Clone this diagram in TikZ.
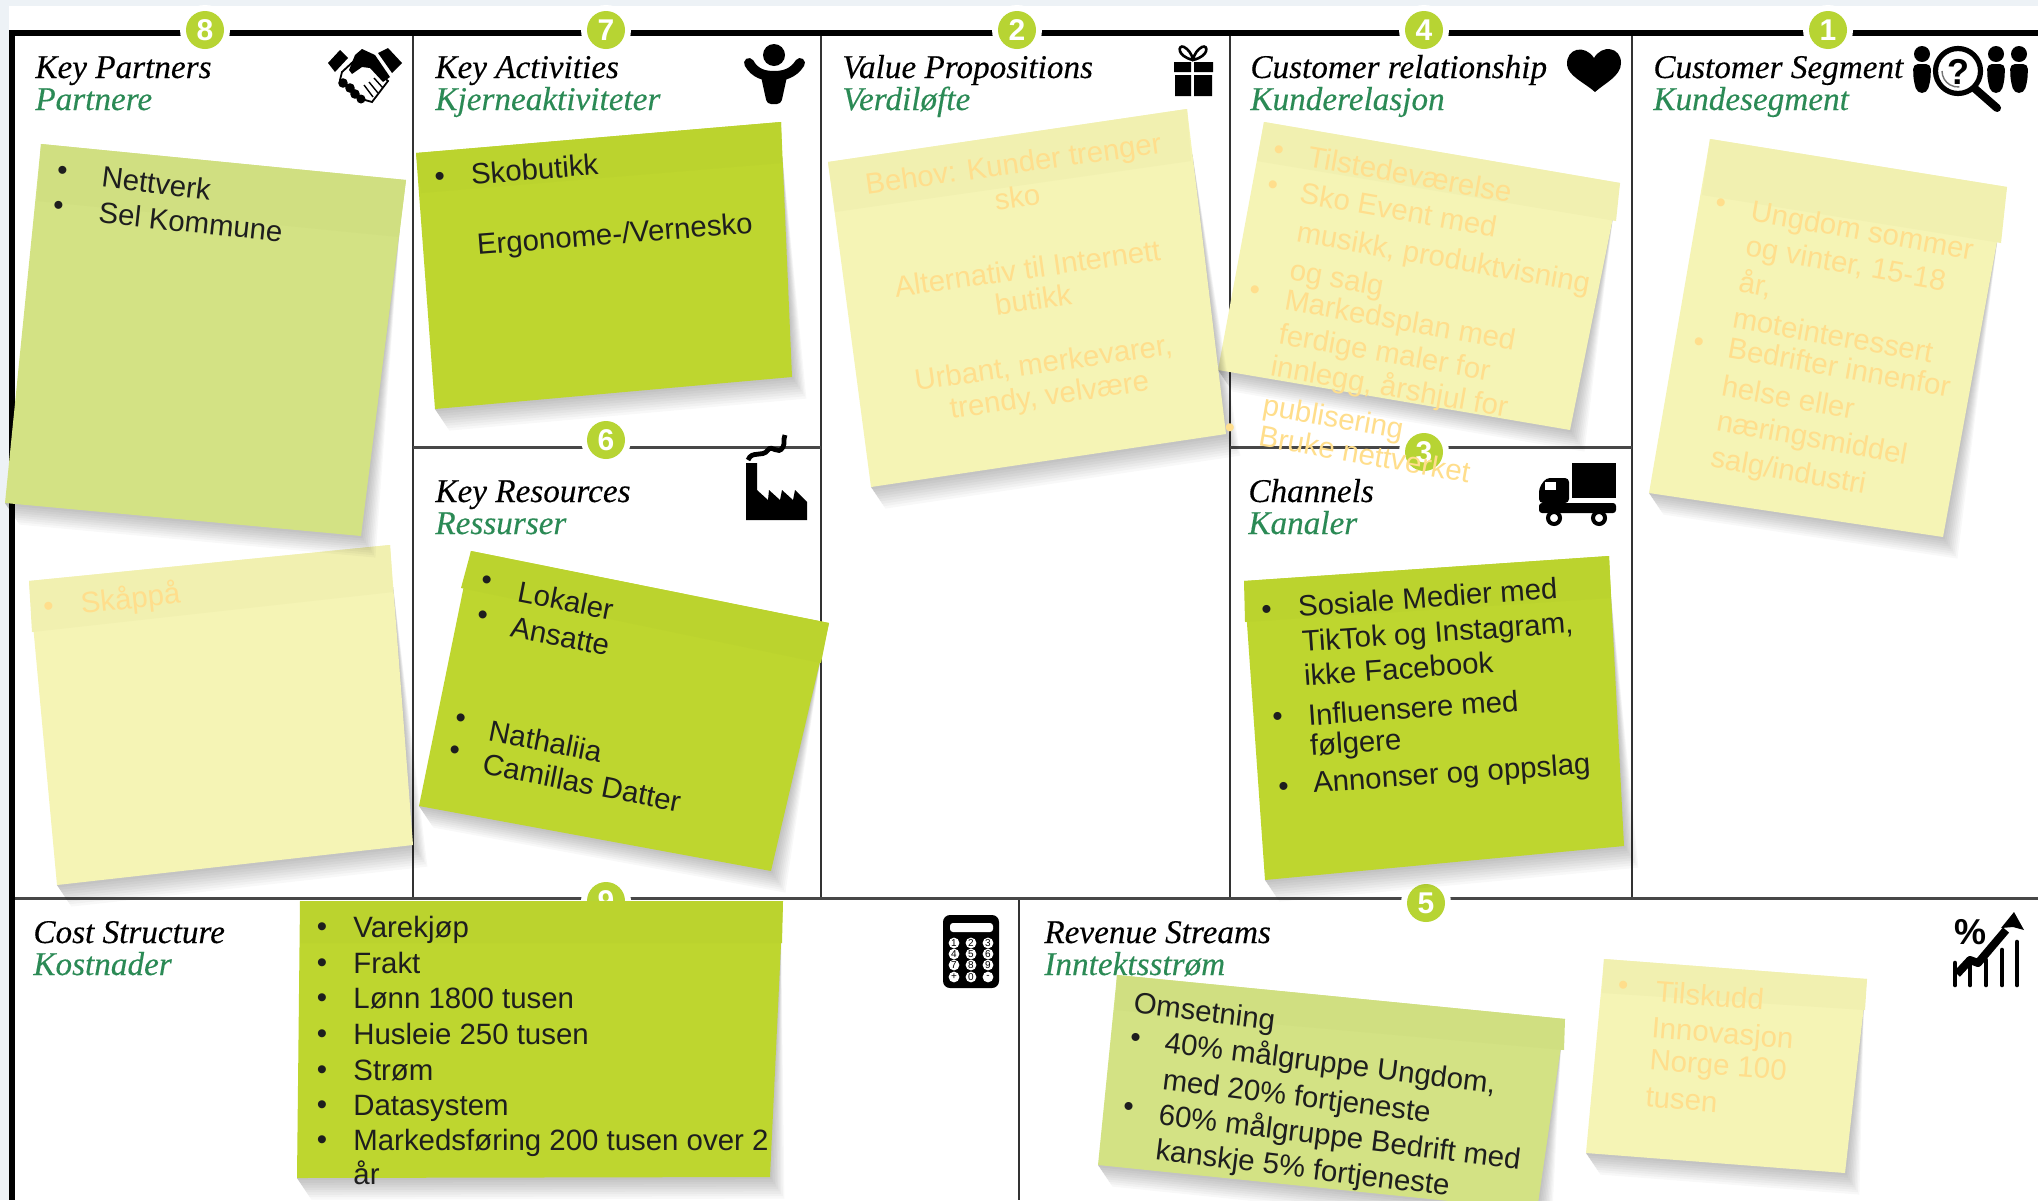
\documentclass[tikz,border=0pt]{standalone}
\usepackage{fontspec}
\setmainfont{Liberation Sans}
\newfontfamily\hdfont{Liberation Serif}[FakeBold=0.25]
\usetikzlibrary{calc}
\definecolor{edgeblue}{HTML}{EDF2F6}
\definecolor{badge}{HTML}{B7D433}
\definecolor{headgreen}{HTML}{2B8A55}
\definecolor{paleg}{HTML}{D3E284}
\definecolor{palegb}{HTML}{D0DF81}
\definecolor{brightg}{HTML}{BED62F}
\definecolor{brightgb}{HTML}{BBD32E}
\definecolor{yel}{HTML}{F5F4B5}
\definecolor{yelb}{HTML}{F1F0B0}
\definecolor{otext}{HTML}{FFDE8C}
\definecolor{ink}{HTML}{1E1E1E}
\newcounter{tc}
\def\BS{14.7}
\def\TC{ink}
\tikzset{
  gridthin/.style={draw=black!80,line width=1pt},
  gridmid/.style={draw=black!72,line width=1.5pt},
  gridthick/.style={draw=black,line width=2.6pt},
  badgehalo/.style={circle,fill=white,inner sep=0pt,minimum size=25pt},
  badgedot/.style={circle,fill=badge,text=white,inner sep=0pt,minimum size=19pt,font=\bfseries\fontsize{15}{15}\selectfont},
  headtxt/.style={anchor=west,inner sep=0pt,text=black,font=\hdfont\itshape\fontsize{16.6}{17}\selectfont,text height=.7em,text depth=.2em},
  subtxt/.style={headtxt,text=headgreen},
  bodytxt/.style={inner sep=0pt,text=\TC,font=\fontsize{\BS}{\BS}\selectfont,text height=.72em,text depth=.2em},
  icon/.style={fill=black,draw=none},
}
\newcommand{\stickynote}[8]{%
  \coordinate (TL) at (#1);\coordinate (TR) at (#2);\coordinate (BR) at (#3);\coordinate (BL) at (#4);
  \coordinate (BaL) at (#5);\coordinate (BaR) at (#6);
  \foreach \k in {1,...,9}{
    \fill[black,opacity=.028] ($(TR)!.14!(BR)$) -- ($(BR)+(\k*1.6,\k*2.4)$) -- ($(BL)+(\k*1.6,\k*2.4)$) -- (BL) -- cycle;
  }
  \fill[#7] (TL) -- (TR) -- (BR) -- (BL) -- cycle;
  \fill[#8] (TL) -- (TR) -- (BaR) -- (BaL) -- cycle;
}
\newcommand{\tline}[4]{\stepcounter{tc}\node[bodytxt,anchor=west,rotate=#3] (t\arabic{tc}) at (#1,#2+4.5) {#4};}
\newcommand{\ctline}[4]{\stepcounter{tc}\node[bodytxt,anchor=center,rotate=#3] (t\arabic{tc}) at (#1,#2+4.5) {#4};}
\newcommand{\bul}[3]{\stepcounter{tc}\node[bodytxt,anchor=center,rotate=#3] (t\arabic{tc}) at (#1,#2+3) {•};}
\newcommand{\badgeat}[4]{\node[badgehalo] at (#2,#3) {};\node[badgedot] (#1) at (#2,#3) {#4};}
\newcommand{\heading}[5]{%
  \node[headtxt] (#1a) at (#2,#3+5) {#4};
  \node[subtxt] (#1b) at (#2,#3+37) {#5};}
\begin{document}
\begin{tikzpicture}[x=0.5pt,y=-0.5pt]
\useasboundingbox (0,0) rectangle (2038,1200);
\fill[white] (0,0) rectangle (2038,1200);
\fill[edgeblue] (0,0) rectangle (2038,6);
\fill[edgeblue] (0,0) rectangle (9,1200);
% grid
\draw[gridthin] (413,33) -- (413,898);
\draw[gridthin] (821,33) -- (821,898);
\draw[gridthin] (1230,33) -- (1230,898);
\draw[gridthin] (1632,33) -- (1632,898);
\draw[gridthin] (1019,898) -- (1019,1200);
\draw[gridmid] (413,447) -- (821,447);
\draw[gridmid] (1230,447) -- (1632,447);
\draw[gridmid] (12,898) -- (2038,898);
\draw[gridthick] (9,33) -- (2038,33);
\draw[gridthick] (12,31) -- (12,1200);
% badges
\badgeat{b8}{205}{30}{8}
\badgeat{b7}{606}{30}{7}
\badgeat{b2}{1017}{30}{2}
\badgeat{b4}{1424}{30}{4}
\badgeat{b1}{1828}{30}{1}
\badgeat{b6}{606}{440}{6}
\badgeat{b3}{1424}{452}{3}
\badgeat{b5}{1426}{903}{5}
\badgeat{b9}{606}{901}{9}
% headings
\heading{kp}{35}{68}{Key Partners}{Partnere}
\heading{ka}{435}{68}{Key Activities}{Kjerneaktiviteter}
\heading{vp}{842}{68}{Value Propositions}{Verdiløfte}
\heading{cr}{1250}{68}{Customer relationship}{Kunderelasjon}
\heading{cs}{1653}{68}{Customer Segment}{Kundesegment}
\heading{kr}{435}{492}{Key Resources}{Ressurser}
\heading{ch}{1248}{492}{Channels}{Kanaler}
\heading{co}{33}{933}{Cost Structure}{Kostnader}
\heading{re}{1044}{933}{Revenue Streams}{Inntektsstrøm}
% icons: handshake
\fill[icon] (328,63) -- (340,50) -- (348,58) -- (335,72) -- cycle;
\fill[icon] (378,53) -- (388,48) -- (402,63) -- (392,73) -- cycle;
\draw[black,line width=.9pt,fill=white] (342,72) -- (355,60) -- (372,66) -- (388,81) -- (372,102) -- (358,98) -- (340,80) -- cycle;
\fill[icon] (355,55) -- (362,49) -- (375,55) -- (390,77) -- (383,82) -- (370,68) -- (362,67) -- (352,74) -- (349,70) -- cycle;
\fill[icon] (343,83) circle (4.8) (350,88) circle (4.8) (355,94) circle (4.8) (361,99) circle (4.5);
\draw[black,line width=.7pt] (364,85) -- (373,97) (369,82) -- (378,93) (374,78) -- (383,88);
% icons: person
\fill[icon] (774,55) circle (11);
\fill[icon,rounded corners=2pt] (760,72) -- (788,72) -- (781,104) -- (767,104) -- cycle;
\draw[black,line width=5pt,line cap=round] (749,63) .. controls (755,74) and (765,76) .. (774,76) .. controls (783,76) and (793,74) .. (800,63);
% icons: gift
\fill[icon] (1175,75) rectangle (1191,96) (1194,75) rectangle (1212,96) (1174,62) rectangle (1191,72) (1194,62) rectangle (1213,72);
\draw[black,line width=1.3pt] (1193,60) .. controls (1176,56) and (1178,44) .. (1184,47) .. controls (1188,49) and (1192,54) .. (1193,60) .. controls (1210,56) and (1208,44) .. (1202,47) .. controls (1198,49) and (1194,54) .. (1193,60);
% icons: heart
\fill[icon] (1594,58) .. controls (1585,44) and (1566,48) .. (1567,65) .. controls (1568,76) and (1585,83) .. (1595,92) .. controls (1605,83) and (1621,76) .. (1621,63) .. controls (1621,47) and (1602,44) .. (1594,58) -- cycle;
% icons: customers + magnifier
\foreach \px in {1922,1996,2019}{
  \fill[icon] (\px,54) circle (8);
  \fill[icon,rounded corners=2.5pt] (\px-9,64) -- (\px+9,64) -- (\px+8.5,80) -- (\px+5,93) -- (\px-5,93) -- (\px-8.5,80) -- cycle;
}
\draw[black,line width=4pt,line cap=round] (1973,87) -- (1997,108);
\draw[black,line width=2.6pt,fill=white] (1958,71) circle (22.5);
\draw[black!55,line width=.7pt] (1942,71) arc (180:85:16);
\node[inner sep=0pt,text=black,font=\bfseries\fontsize{18}{18}\selectfont] (qm) at (1958,72) {?};
% icons: factory
\fill[icon] (746,463) -- (757,463) -- (757,490) -- (768,500) -- (769,490) -- (780,500) -- (782,490) -- (793,500) -- (795,490) -- (807,502) -- (807,520) -- (746,520) -- cycle;
\draw[black,line width=2.4pt] (748,460) .. controls (752,450) and (762,458) .. (768,450) .. controls (772,444) and (778,456) .. (783,447) .. controls (785,443) and (783,440) .. (785,435);
% icons: truck
\fill[icon] (1572,463) rectangle (1616,498);
\fill[icon,rounded corners=2pt] (1539,503) -- (1539,488) -- (1546,478) -- (1569,478) -- (1569,503) -- cycle;
\fill[white] (1545,482) rectangle (1556,490);
\fill[icon,rounded corners=1.5pt] (1539,503) rectangle (1616,513);
\foreach \wx in {1554,1599}{
  \draw[black,line width=2pt,fill=white] (\wx,518) circle (6);
}
% icons: calculator
\fill[icon,rounded corners=3.5pt] (943,915) rectangle (999,988);
\fill[white,rounded corners=1.5pt] (950,923) rectangle (993,932);
\foreach \lab/\bx/\by in {1/954/943,2/971/943,3/988/943,4/954/954,5/971/954,6/988/954,7/954/965,8/971/965,9/988/965,+/954/977,0/971/977,-/988/977}{
  \node[circle,fill=white,inner sep=0pt,minimum size=5.4pt,text=black,font=\fontsize{5}{5}\selectfont] at (\bx,\by) {\lab};
}
% icons: chart
\node[inner sep=0pt,text=black,font=\bfseries\fontsize{18}{18}\selectfont] (pct) at (1970,932) {\%};
\foreach \bx/\by in {1955/963,1970/965,1986/960,2002/950,2017/942}{
  \draw[black,line width=2.3pt,line cap=round] (\bx,\by) -- (\bx,985);
}
\draw[black,line width=4pt,line join=round] (1957,974) -- (1970,960) -- (1978,963) -- (2006,930);
\fill[icon] (2014,912) -- (2024,930) -- (2013,927) -- (2001,928) -- cycle;
% notes
\stickynote{29,581}{390,545}{413,845}{57,885}{32,632}{393,592}{yel}{yelb}
\stickynote{41,144}{406,180}{361,536}{5,503}{37,201}{399,237}{paleg}{palegb}
\stickynote{416,153}{781,122}{792,377}{435,409}{421,193}{782,163}{brightg}{brightgb}
\stickynote{471,551}{829,623}{771,871}{419,806}{461,588}{821,663}{brightg}{brightgb}
\stickynote{1264,122}{1620,183}{1570,430}{1218,370}{1257,161}{1616,221}{yel}{yelb}
\stickynote{828,162}{1187,109}{1226,434}{871,487}{835,212}{1191,161}{yel}{yelb}
\stickynote{1710,139}{2007,187}{1943,537}{1649,493}{1702,195}{2001,243}{yel}{yelb}
\stickynote{1244,581}{1609,556}{1624,846}{1265,880}{1245,622}{1611,598}{brightg}{brightgb}
\stickynote{300,901}{783,901}{770,1177}{297,1178}{300,943}{782,943}{brightg}{brightgb}
\stickynote{1117,975}{1565,1019}{1537,1210}{1098,1165}{1115,1010}{1564,1050}{paleg}{palegb}
\stickynote{1604,959}{1867,979}{1845,1173}{1586,1153}{1602,993}{1865,1010}{yel}{yelb}
% note text: dark
\def\TC{ink}
\bul{62}{172}{-6}\tline{101}{177}{-7}{Nettverk}
\bul{58}{207}{-6}\tline{98}{213}{-6}{Sel Kommune}
\bul{440}{178}{4.5}\tline{471}{175}{4.5}{Skobutikk}
\tline{477}{245}{4.5}{Ergonome-/Vernesko}
\bul{486}{581}{-11}\tline{517}{592}{-11}{Lokaler}
\bul{482}{616}{-11}\tline{510}{627}{-11}{Ansatte}
\bul{460}{719}{-11}\tline{488}{731}{-11}{Nathaliia}
\bul{454}{751}{-11}\tline{482}{764}{-11}{Camillas Datter}
\bul{1267}{611}{4}\tline{1298}{607}{4}{Sosiale Medier med}
\tline{1302}{642}{4}{TikTok og Instagram,}
\tline{1304}{676}{4}{ikke Facebook}
\bul{1278}{718}{4}\tline{1308}{716}{4}{Influensere med}
\tline{1310}{746}{4}{følgere}
\bul{1284}{788}{4}\tline{1313}{783}{4}{Annonser og oppslag}
\tline{1133}{1003}{-7}{Omsetning}
\bul{1135}{1039}{-7}\tline{1164}{1043}{-7}{40\% målgruppe Ungdom,}
\tline{1162}{1080}{-7}{med 20\% fortjeneste}
\bul{1128}{1108}{-7}\tline{1158}{1115}{-7}{60\% målgruppe Bedrift med}
\tline{1155}{1150}{-7}{kanskje 5\% fortjeneste}
\bul{322}{928}{0}\tline{353}{928}{0}{Varekjøp}
\bul{322}{964}{0}\tline{353}{964}{0}{Frakt}
\bul{322}{999}{0}\tline{353}{999}{0}{Lønn 1800 tusen}
\bul{322}{1035}{0}\tline{353}{1035}{0}{Husleie 250 tusen}
\bul{322}{1071}{0}\tline{353}{1071}{0}{Strøm}
\bul{322}{1106}{0}\tline{353}{1106}{0}{Datasystem}
\bul{322}{1141}{0}\tline{353}{1141}{0}{Markedsføring 200 tusen over 2}
\tline{353}{1175}{0}{år}
% note text: pale
\def\TC{otext}
\bul{49}{608}{6}\tline{81}{604}{6}{Skåppå}
\ctline{1014}{164}{8}{Behov: Kunder trenger}
\ctline{1018}{198}{8}{sko}
\ctline{1028}{269}{8}{Alternativ til Internett}
\ctline{1034}{300}{8}{butikk}
\ctline{1044}{363}{8}{Urbant, merkevarer,}
\ctline{1050}{395}{8}{trendy, velvære}
\bul{1278}{151}{-10}\tline{1307}{157}{-10}{Tilstedeværelse}
\bul{1272}{186}{-10}\tline{1299}{193}{-10}{Sko Event med}
\tline{1296}{232}{-10}{musikk, produktvisning}
\tline{1289}{270}{-10}{og salg}
\bul{1254}{291}{-10}\tline{1284}{300}{-10}{Markedsplan med}
\tline{1278}{334}{-10}{ferdige maler for}
\tline{1270}{366}{-10}{innlegg, årshjul for}
\tline{1262}{405}{-10}{publisering}
\bul{1229}{429}{-10}\tline{1258}{436}{-10}{Bruke nettverket}
\bul{1720}{204}{-10}\tline{1750}{211}{-10}{Ungdom sommer}
\tline{1745}{246}{-10}{og vinter, 15-18}
\tline{1738}{282}{-10}{år,}
\tline{1732}{318}{-10}{moteinteressert}
\bul{1698}{343}{-10}\tline{1727}{348}{-10}{Bedrifter innenfor}
\tline{1721}{386}{-10}{helse eller}
\tline{1716}{421}{-10}{næringsmiddel}
\tline{1710}{457}{-10}{salg/industri}
\bul{1623}{987}{-4.5}\tline{1655}{992}{-4.5}{Tilskudd}
\tline{1651}{1028}{-4.5}{Innovasjon}
\tline{1649}{1060}{-4.5}{Norge 100}
\tline{1645}{1097}{-4.5}{tusen}
\end{tikzpicture}
\end{document}
